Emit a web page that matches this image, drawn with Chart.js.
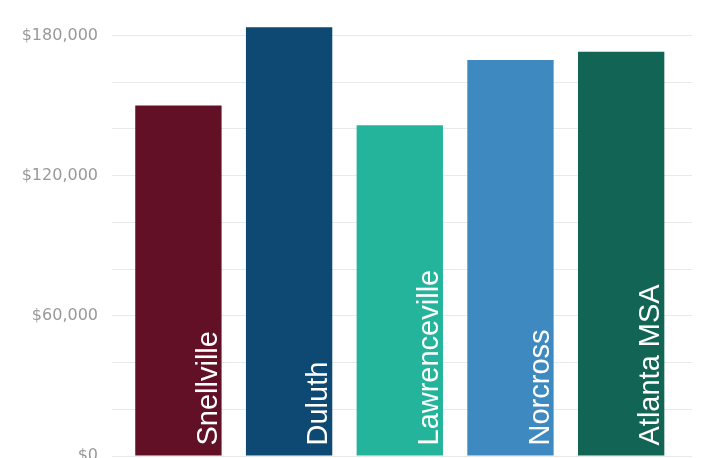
<!doctype html>
<html>
<head>
	<title>Bar Chart</title>
	<meta charset=utf-8>
	<script src="https://cdn.jsdelivr.net/npm/chart.js@4/dist/chart.umd.min.js"></script>
	<style>
		body { margin: 0; background: #fff; }
		#holder { width: 704px; height: 458px; }
	</style>
</head>
<body>
	<div id="holder"><canvas id="chart-area"></canvas></div>
	<script>
		var places = ['Snellville', 'Duluth', 'Lawrenceville', 'Norcross', 'Atlanta MSA'];
		var incomes = [150000, 183500, 141500, 169500, 173000];
		var barColors = ['#621026', '#0e4973', '#24b49b', '#3e8ac0', '#126554'];
		var gridValues = [0, 20000, 40000, 60000, 80000, 100000, 120000, 140000, 160000, 180000];
		var tickLabels = { 0: '$0', 60000: '$60,000', 120000: '$120,000', 180000: '$180,000' };

		// white names written up the inside of each bar
		var barNames = {
			id: 'barNames',
			afterDatasetsDraw: function(chart) {
				var ctx = chart.ctx;
				var bars = chart.getDatasetMeta(0).data;
				ctx.save();
				ctx.fillStyle = '#ffffff';
				ctx.font = '29px "Liberation Sans", Arial, sans-serif';
				ctx.textAlign = 'left';
				ctx.textBaseline = 'alphabetic';
				bars.forEach(function(bar, i) {
					ctx.save();
					ctx.translate(bar.x + bar.width / 2 - 5, bar.base - 10);
					ctx.rotate(-Math.PI / 2);
					ctx.fillText(places[i], 0, 0);
					ctx.restore();
				});
				ctx.restore();
			}
		};

		var config = {
			type: 'bar',
			data: {
				datasets: [{
					data: incomes.map(function(v, i) { return { x: i, y: v }; }),
					backgroundColor: barColors,
					borderWidth: 0,
					barPercentage: 0.78,
					categoryPercentage: 1
				}]
			},
			options: {
				responsive: true,
				maintainAspectRatio: false,
				animation: false,
				layout: { autoPadding: false, padding: { top: 12, right: 12, bottom: 2, left: 0 } },
				plugins: { legend: { display: false }, tooltip: { enabled: false } },
				scales: {
					x: {
						type: 'linear',
						min: -0.6,
						max: 4.64,
						offset: false,
						display: false,
						afterFit: function(scale) { scale.height = 0; },
						afterBuildTicks: function(scale) {
							scale.ticks = places.map(function(p, i) { return { value: i }; });
						}
					},
					y: {
						min: 0,
						max: 190000,
						afterFit: function(scale) {
							scale.width = 112;
							// labels may run past the plot, as in the original
							scale.paddingTop = 0;
							scale.paddingBottom = 0;
						},
						afterBuildTicks: function(scale) {
							scale.ticks = gridValues.map(function(v) { return { value: v }; });
						},
						border: { display: false },
						grid: { drawTicks: false, color: '#e9e9e9' },
						ticks: {
							autoSkip: false,
							padding: 14,
							color: '#999999',
							font: { family: '"DejaVu Sans", sans-serif', size: 16 },
							callback: function(v) { return tickLabels[v] || ''; }
						}
					}
				}
			},
			plugins: [barNames]
		};

		window.onload = function() {
			var ctx = document.getElementById('chart-area').getContext('2d');
			window.myBar = new Chart(ctx, config);
		};
	</script>
</body>
</html>
